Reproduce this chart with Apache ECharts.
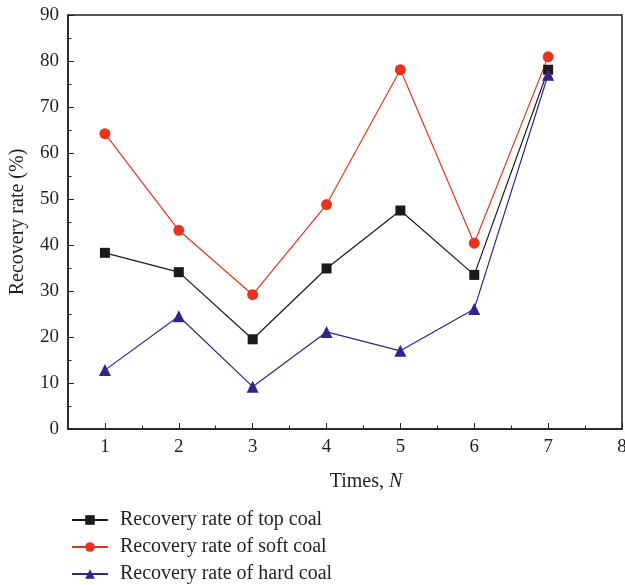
<!DOCTYPE html>
<html>
<head>
<meta charset="utf-8">
<script src="https://cdn.jsdelivr.net/npm/echarts@6/dist/echarts.min.js"></script>
<style>
  html, body { margin: 0; padding: 0; background: #fff; }
  #chart { width: 625px; height: 585px; }
</style>
</head>
<body>
<div id="chart"></div>
<script>
// x positions (Times, N)
var times = [1, 2, 3, 4, 5, 6, 7];
var xTickLabels = [1, 2, 3, 4, 5, 6, 7, 8];
var xMinorTicks = [1.5, 2.5, 3.5, 4.5, 5.5, 6.5, 7.5];

// recovery rates (%)
var topCoal  = [38.3, 34.1, 19.5, 34.9, 47.5, 33.5, 78.1];
var softCoal = [64.2, 43.2, 29.2, 48.8, 78.1, 40.4, 80.9];
var hardCoal = [12.8, 24.5, 9.2, 21.1, 17.0, 26.1, 77.0];

var seriesNames = ['Recovery rate of top coal', 'Recovery rate of soft coal', 'Recovery rate of hard coal'];

function pairs(ys) {
    return times.map(function (x, i) { return [x, ys[i]]; });
}

var font = 'Liberation Serif';
var ink = '#231f20';

var myChart = echarts.init(document.getElementById('chart'));
var option = {
    animation: false,
    textStyle: { fontFamily: font, color: ink },
    grid: {
        //绘图区
        left: 68, right: 3, top: 15, bottom: 156,
        outerBoundsMode: 'none',
        show: true,
        borderColor: ink,
        borderWidth: 1.5
    },
    legend: {
        orient: 'vertical',
        left: 66,
        top: 505,
        height: 84,
        itemWidth: 36,
        itemHeight: 12,
        itemGap: 7,
        data: seriesNames,
        textStyle: { fontFamily: font, fontSize: 20, color: ink, padding: [0, 0, 0, 7] }
    },
    xAxis: [
        {
            type: 'value',
            min: 0.5,
            max: 8,
            name: 'Times, {i|N}',
            nameLocation: 'middle',
            nameGap: 43,
            nameTextStyle: {
                fontFamily: font, fontSize: 20, color: ink,
                padding: [0, 0, 0, 42],
                rich: { i: { fontStyle: 'italic', fontFamily: font, fontSize: 20, color: ink } }
            },
            axisLine: { lineStyle: { color: ink, width: 1.5 } },
            axisTick: { inside: true, length: 6, customValues: xTickLabels, lineStyle: { color: ink } },
            axisLabel: { customValues: xTickLabels, margin: 9, fontFamily: font, fontSize: 19, color: ink },
            splitLine: { show: false }
        },
        {
            type: 'value',
            min: 0.5,
            max: 8,
            position: 'bottom',
            axisLine: { show: false },
            axisTick: { inside: true, length: 3.5, customValues: xMinorTicks, lineStyle: { color: ink } },
            axisLabel: { show: false },
            splitLine: { show: false }
        }
    ],
    yAxis: {
        type: 'value',
        min: 0,
        max: 90,
        interval: 10,
        name: 'Recovery rate (%)',
        nameLocation: 'middle',
        nameGap: 40,
        nameTextStyle: { fontFamily: font, fontSize: 20, color: ink },
        axisLine: { show: true, lineStyle: { color: ink, width: 1.5 } },
        axisTick: { inside: true, length: 6, lineStyle: { color: ink } },
        minorTick: { show: true, splitNumber: 2, length: 3.5, lineStyle: { color: ink } },
        axisLabel: { margin: 9, fontFamily: font, fontSize: 19, color: ink },
        splitLine: { show: false }
    },
    series: [
        {
            name: seriesNames[0],
            type: 'line',
            data: pairs(topCoal),
            symbol: 'rect',
            symbolSize: 10,
            itemStyle: { color: '#1a1a1a' },
            lineStyle: { color: '#1a1a1a', width: 1.2 }
        },
        {
            name: seriesNames[1],
            type: 'line',
            data: pairs(softCoal),
            symbol: 'circle',
            symbolSize: 11,
            itemStyle: { color: '#e8341c' },
            lineStyle: { color: '#e8341c', width: 1.2 }
        },
        {
            name: seriesNames[2],
            type: 'line',
            data: pairs(hardCoal),
            symbol: 'triangle',
            symbolSize: 12,
            itemStyle: { color: '#35228a' },
            lineStyle: { color: '#35228a', width: 1.2 }
        }
    ]
};
myChart.setOption(option);
</script>
</body>
</html>
